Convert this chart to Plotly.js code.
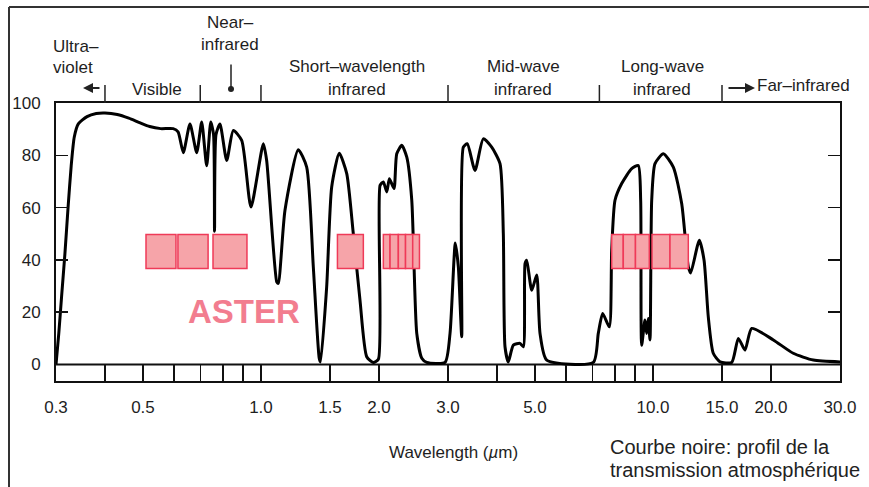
<!DOCTYPE html>
<html><head><meta charset="utf-8">
<script src="https://cdn.plot.ly/plotly-3.0.1.min.js"></script>
<style>html,body{margin:0;padding:0;background:#fff;}#chart{width:869px;height:487px;}</style>
</head><body><div id="chart"></div>
<script>
// Atmospheric transmission curve (wavelength in µm, transmission in %)
const wavelength = [0.300,0.305,0.310,0.316,0.322,0.328,0.334,0.342,0.36,0.38,0.40,0.43,0.46,0.49,0.52,0.555,0.597,
  0.6145,0.6337,0.659,0.6856,0.706,0.727,0.7445,0.7568,0.7613,0.768,0.786,0.8177,0.850,0.893,0.943,1.014,1.034,
  1.097,1.107,1.1515,1.245,1.308,1.360,1.408,1.4185,1.471,1.515,1.584,1.655,1.720,1.789,1.861,1.934,1.993,
  2.013,2.052,2.094,2.126,2.185,2.220,2.287,2.355,2.425,2.497,2.572,2.648,2.948,3.036,3.132,3.188,3.252,3.283,
  3.360,3.516,3.691,3.878,4.072,4.152,4.193,4.276,4.403,4.580,4.670,4.717,4.764,4.906,5.052,5.151,5.358,7.044,
  7.253,7.443,7.738,7.847,8.001,8.322,8.825,9.173,9.303,9.358,9.541,9.637,9.728,9.827,9.926,10.12,10.63,11.27,
  11.84,12.31,12.48,13.13,13.50,13.84,14.25,14.83,15.88,16.51,17.17,17.86,20.28,22.80,25.65,30.0];
const transmission = [0,12,26,42,60,76,87,92,94.8,96,96.2,95.6,94.2,92.5,91,90.2,90.2,
  89,81,92,81,92.7,76,92.7,88,51,88,92,78,89.5,85.7,60.2,84.4,78,
  31.6,31,59,82.1,75.5,37.3,2.4,1,29.7,67.9,80.8,73,50,24.6,3,0.8,2,
  68.5,69.8,66,71,67.3,80.6,83.8,79.3,62.8,11.9,2.4,0.8,0.8,11.9,46.5,37.3,10.6,83.1,
  84.4,74.2,86.3,83.1,76.8,50,6.8,1,7.4,8.1,6.8,38.6,39.9,28.4,34.2,11.9,1.7,0.8,
  11.9,19.5,14.4,43.7,62.8,69.2,74.9,76.1,62.8,7.4,17,11.9,17.6,9.4,62.8,76.8,80.6,75.5,
  61.5,37.3,35,47.5,39.9,18.2,4.3,1,0.8,10,5.5,13.8,9.4,4.3,1.7,1];

// Axis ticks
const tickValues = [0.3,0.4,0.5,0.6,0.7,0.8,0.9,1,1.5,2,3,4,5,6,7,8,9,10,15,20,30];
const tickLabels = ['0.3','','0.5','','','','','1.0','1.5','2.0','3.0','','5.0','','','','','10.0','15.0','20.0','30.0'];
const yTickValues = [0,20,40,60,80,100];

// ASTER bands (µm) as drawn
const asterStart = [0.509,0.614,0.7545,1.567,2.052,2.1345,2.2413,2.3377,2.4383,7.847,8.400,9.023,9.943,11.052];
const asterEnd   = [0.607,0.733,0.921,1.8245,2.1345,2.2413,2.3377,2.4383,2.537,8.400,9.023,9.787,11.052,12.307];
const asterLow = 36.7, asterHigh = 49.7;

// Spectral region boundaries (µm)
const regionBounds = [0.4,0.7,1.0,3.0,7.3,15.0];

const FONT = '"Liberation Sans",Arial,sans-serif';
const TXT = '#1e1e1e';
const FS = 17;

// layout helpers: pixel -> paper
const L=56, R=840, T=103, B=381;
const xp = px => (px-L)/(R-L);
const yp = py => (B-py)/(B-T);
const lx = lam => (Math.log10(lam)-Math.log10(0.3))/(Math.log10(30)-Math.log10(0.3));

const shapes = [];
shapes.push({type:'line',xref:'paper',yref:'y',x0:0,x1:1,y0:0,y1:0,line:{color:'#111',width:2},layer:'below'});
for (let i=0;i<asterStart.length;i++){
  shapes.push({type:'rect',xref:'x',yref:'y',x0:asterStart[i],x1:asterEnd[i],y0:asterLow,y1:asterHigh,
    fillcolor:'#f6a4a9',line:{color:'#ef3a58',width:1.5},layer:'above'});
}
regionBounds.forEach(b=>{
  shapes.push({type:'line',xref:'paper',yref:'paper',x0:lx(b),x1:lx(b),y0:1,y1:yp(85),line:{color:'#222',width:1.5}});
});
shapes.push({type:'line',xref:'paper',yref:'paper',x0:xp(9),x1:xp(869),y0:yp(7),y1:yp(7),line:{color:'#333',width:2}});
shapes.push({type:'line',xref:'paper',yref:'paper',x0:xp(9),x1:xp(9),y0:yp(7),y1:yp(487),line:{color:'#333',width:2}});

const ann = (text,px,py,opts={}) => Object.assign({text, xref:'paper', yref:'paper', x:xp(px), y:yp(py),
  xanchor:'center', yanchor:'middle', showarrow:false, font:{family:FONT,size:FS,color:TXT}}, opts);

const annotations = [
  ann('Ultra–',51,47,{xanchor:'left'}),
  ann('violet',51,68,{xanchor:'left'}),
  ann('Visible',157,89),
  ann('Near–',230,22),
  ann('infrared',230,44),
  ann('Short–wavelength',357,67),
  ann('infrared',357,89),
  ann('Mid-wave',523,67),
  ann('infrared',523,89),
  ann('Long-wave',662,67),
  ann('infrared',662,89),
  ann('Far–infrared',755,86,{xanchor:'left'}),
  ann('ASTER',244,311,{font:{family:FONT,size:33,color:'#f27d8f',weight:'bold'}}),
  ann('Wavelength (<i>µ</i>m)',453,452),
  ann('Courbe noire: profil de la',608,447,{xanchor:'left',font:{family:FONT,size:20,color:'#222'}}),
  ann('transmission atmosphérique',608,470,{xanchor:'left',font:{family:FONT,size:20,color:'#222'}}),
  {text:'',xref:'paper',yref:'paper',x:xp(83),y:yp(88),ax:18,ay:0,showarrow:true,arrowhead:2,arrowsize:1,arrowwidth:2,arrowcolor:'#222'},
  {text:'',xref:'paper',yref:'paper',x:xp(755),y:yp(88),ax:-28,ay:0,showarrow:true,arrowhead:2,arrowsize:1,arrowwidth:2,arrowcolor:'#222'},
  {text:'',xref:'paper',yref:'paper',x:xp(231),y:yp(89),ax:0,ay:-26,showarrow:true,arrowhead:6,arrowsize:1,arrowwidth:1.5,arrowcolor:'#222'}
];

const trace = {x:wavelength, y:transmission, type:'scatter', mode:'lines',
  line:{color:'#000', width:3, shape:'spline', smoothing:0.6}, hoverinfo:'skip'};

const layout = {
  width:869, height:487,
  margin:{l:L, r:869-R, t:T, b:487-B, pad:0},
  paper_bgcolor:'#fff', plot_bgcolor:'#fff',
  showlegend:false,
  xaxis:{type:'log', range:[Math.log10(0.3),Math.log10(30)], tickmode:'array', tickvals:tickValues, ticktext:tickLabels,
    ticks:'inside', ticklen:16, tickwidth:1.5, tickcolor:'#111', showline:true, linewidth:2, linecolor:'#111', mirror:true,
    showgrid:false, zeroline:false, tickfont:{family:FONT,size:FS,color:TXT}, ticklabelstandoff:10},
  yaxis:{range:[-6.3,100], tickmode:'array', tickvals:yTickValues, ticks:'inside', ticklen:12, tickwidth:1.5, tickcolor:'#111',
    showline:true, linewidth:2, linecolor:'#111', mirror:'ticks', showgrid:false, zeroline:false,
    tickfont:{family:FONT,size:FS,color:TXT}, ticklabelstandoff:10},
  shapes, annotations
};
Plotly.newPlot('chart',[trace],layout,{displayModeBar:false,staticPlot:true});
</script></body></html>
